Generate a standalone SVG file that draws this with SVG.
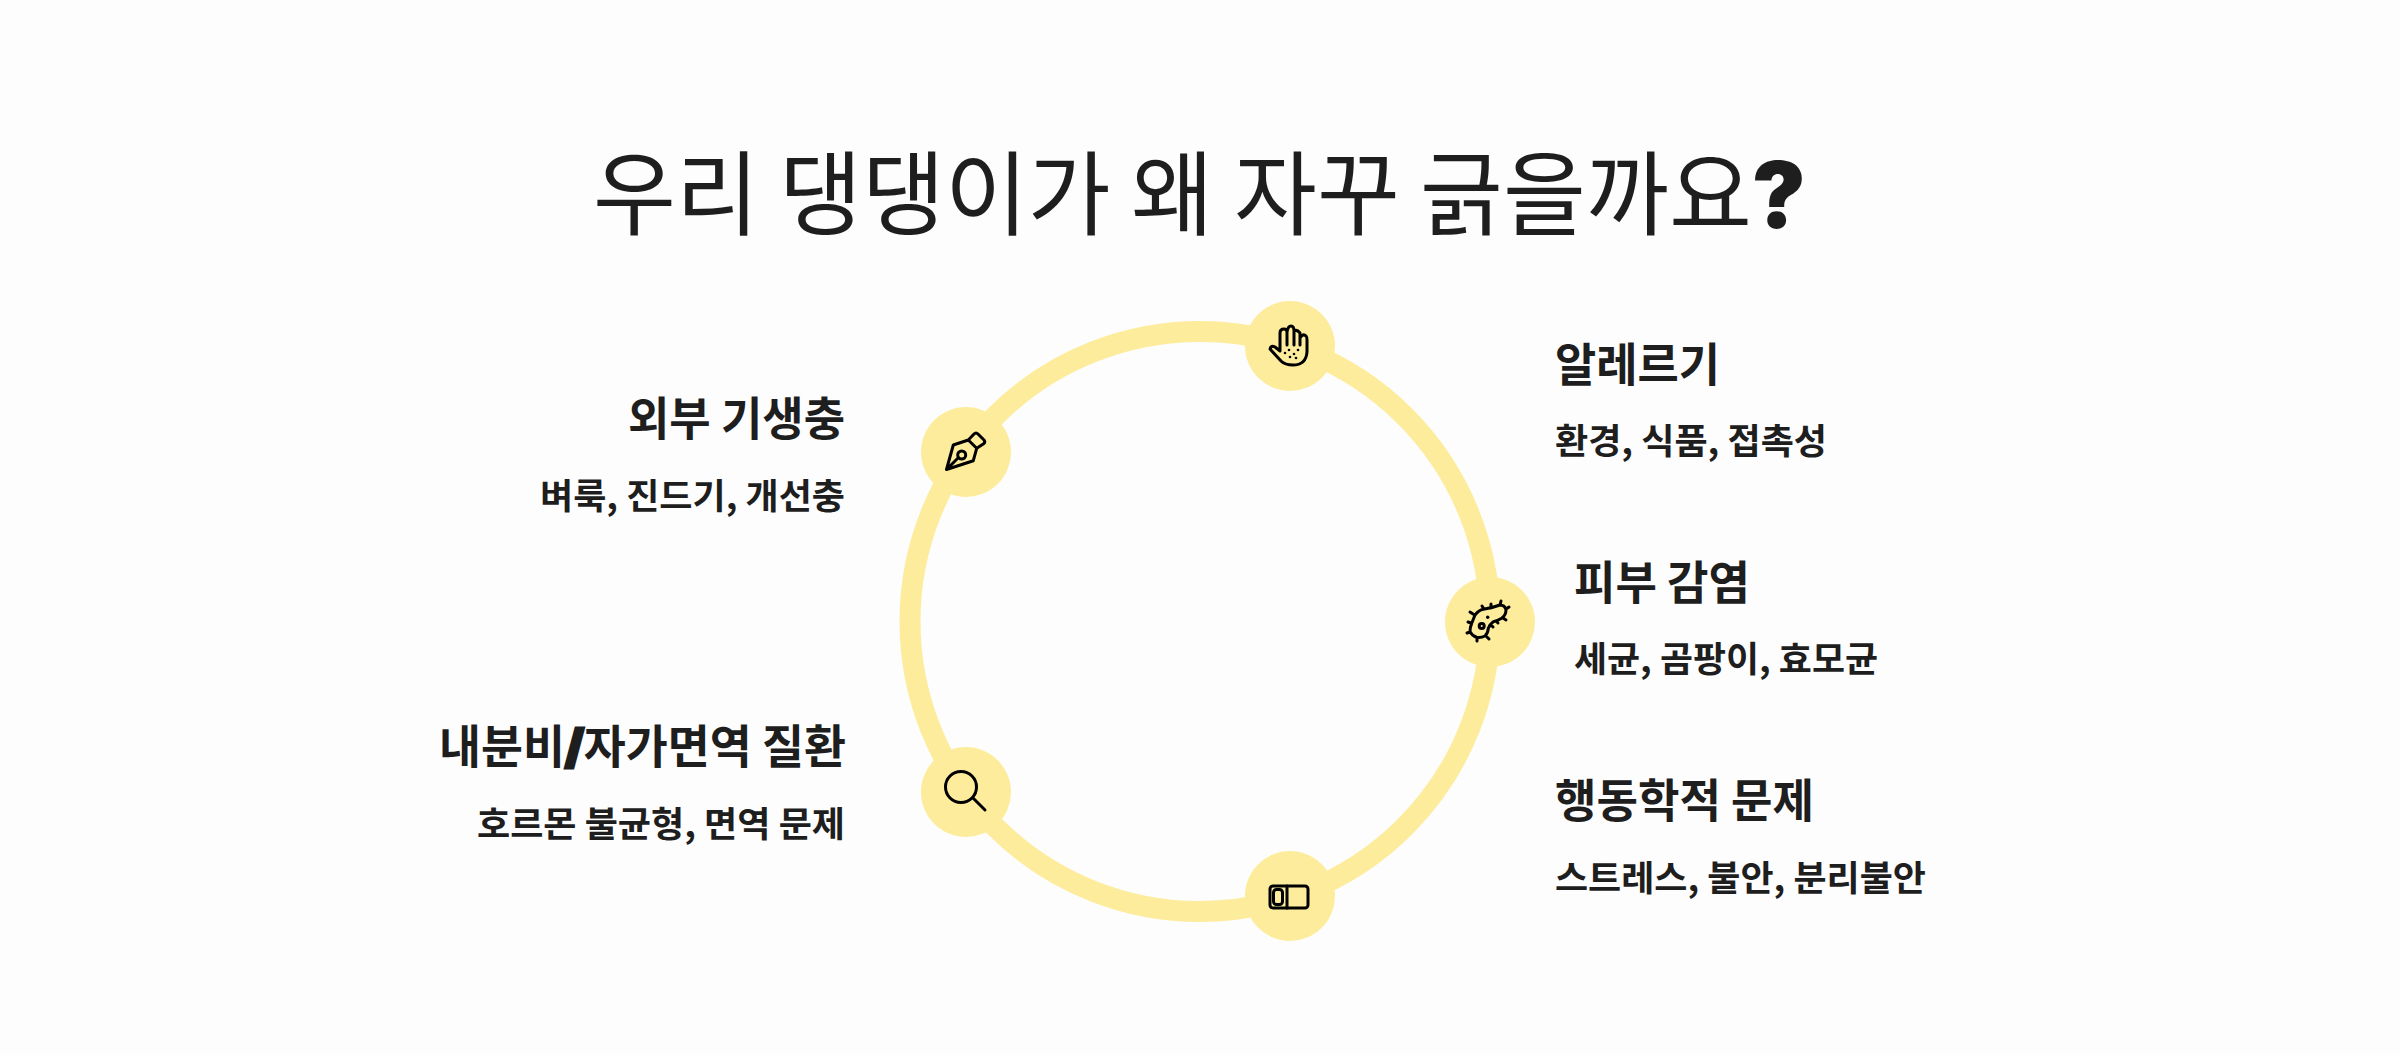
<svg xmlns="http://www.w3.org/2000/svg" width="2400" height="1055" viewBox="0 0 2400 1055">
<style>
text{font-family:"Noto Sans CJK KR","Noto Sans",sans-serif;fill:#1e1e1e}
.t{font-size:92px;font-weight:400}
.h{font-size:46px;font-weight:700}
.s{font-size:35px;font-weight:700}
.x{font-family:Inter,sans-serif;font-weight:900}
.y{stroke:#1e1e1e;stroke-width:3}
.n{fill:#fdec9c}
.i{fill:none;stroke:#000;stroke-width:3;stroke-linecap:round;stroke-linejoin:round}
.d{fill:#000}
</style>
<rect width="2400" height="1055" fill="#fdfdfd"/>
<g id="connectors"><circle cx="1200" cy="621.5" r="290" fill="none" stroke="#fdec9c" stroke-width="21"/></g>
<g id="title"><text class="t" x="593" y="228" textLength="1213" lengthAdjust="spacingAndGlyphs">우리 댕댕이가 왜 자꾸 긁을까요<tspan class="x">?</tspan></text></g>
<g id="node-allergy"><circle class="n" cx="1290" cy="346" r="45"/>
<path class="i" d="M1270 349 Q1271 345 1275 347 L1280 351 V333 Q1280 329 1284 329 Q1287 329 1287 332 Q1288 326 1291 326 Q1294 326 1294 331 Q1297 329 1300 333 V338 Q1303 333 1306 336 Q1307 337 1307 340 V352 Q1306 365 1293 365 Q1285 365 1281 361 Z M1287 332V345 M1294 331V345 M1300 333V345"/>
<g class="d"><circle cx="1289" cy="350" r="1.3"/><circle cx="1294" cy="354" r="1.3"/><circle cx="1285" cy="353" r="1.3"/><circle cx="1290" cy="357" r="1.3"/><circle cx="1296" cy="358" r="1.3"/><circle cx="1298" cy="350" r="1.3"/></g>
<text class="h" x="1555" y="381" textLength="165" lengthAdjust="spacingAndGlyphs">알레르기</text><text class="s" x="1555" y="454" textLength="272" lengthAdjust="spacingAndGlyphs">환경, 식품, 접촉성</text></g>
<g id="node-parasite"><circle class="n" cx="966" cy="452" r="45"/>
<path class="i" d="M946.5 469.5 L953.3 445 L968.3 440 L976.7 448.3 L973.3 460.7 Z M946.5 469.5 L958.3 457.7 M968.3 440 L974 434 Q976 432 978 434 L984 440 Q985.5 442 984 443.5 L976.7 448.3"/>
<circle class="i" cx="961.7" cy="455" r="4"/>
<text class="h" x="845" y="435" text-anchor="end" textLength="217" lengthAdjust="spacingAndGlyphs">외부 기생충</text><text class="s" x="845" y="509" text-anchor="end" textLength="305" lengthAdjust="spacingAndGlyphs">벼룩, 진드기, 개선충</text></g>
<g id="node-infection"><circle class="n" cx="1490" cy="622" r="45"/>
<path class="i" d="M1475 615 Q1479 610 1483.3 609.3 Q1492 608 1500 605 Q1505 605 1506 610 Q1506 615 1501.7 618.3 Q1497 621 1493.3 621.7 Q1490 624 1488.3 628.3 Q1488 633 1485 636 Q1481 638 1476.7 637.3 Q1472 636 1470 631.7 Q1470 627 1471.7 623.3 Z M1473 614l-3-2 M1471 623l-3-1 M1470 632l-3 1 M1477 638l0 3 M1487 637l2 2 M1491 625l2 2 M1484 609l-2-3 M1491 608l0-4 M1500 605l1-4 M1506 609l3-2 M1503 618l3 2 M1496 621l2 2"/>
<circle class="i" cx="1481.7" cy="626" r="2.5"/><circle class="d" cx="1487.7" cy="617.3" r="1.7"/>
<text class="h" x="1574" y="599" textLength="176" lengthAdjust="spacingAndGlyphs">피부 감염</text><text class="s" x="1574" y="672" textLength="304" lengthAdjust="spacingAndGlyphs">세균, 곰팡이, 효모균</text></g>
<g id="node-endocrine"><circle class="n" cx="966" cy="792" r="45"/>
<circle class="i" cx="961" cy="787" r="15.5"/><path class="i" d="M973 798L985 810"/>
<text class="h" x="846" y="763" text-anchor="end" textLength="407" lengthAdjust="spacingAndGlyphs">내분비<tspan class="x y">/</tspan>자가면역 질환</text><text class="s" x="845" y="837" text-anchor="end" textLength="368" lengthAdjust="spacingAndGlyphs">호르몬 불균형, 면역 문제</text></g>
<g id="node-behavior"><circle class="n" cx="1290" cy="896" r="45"/>
<rect class="i" x="1270" y="886" width="38" height="22" rx="3"/><path class="i" d="M1287 886V908"/><rect class="i" x="1273.5" y="889.5" width="9" height="15" rx="3"/>
<text class="h" x="1555" y="817" textLength="259" lengthAdjust="spacingAndGlyphs">행동학적 문제</text><text class="s" x="1555" y="891" textLength="371" lengthAdjust="spacingAndGlyphs">스트레스, 불안, 분리불안</text></g>
</svg>
